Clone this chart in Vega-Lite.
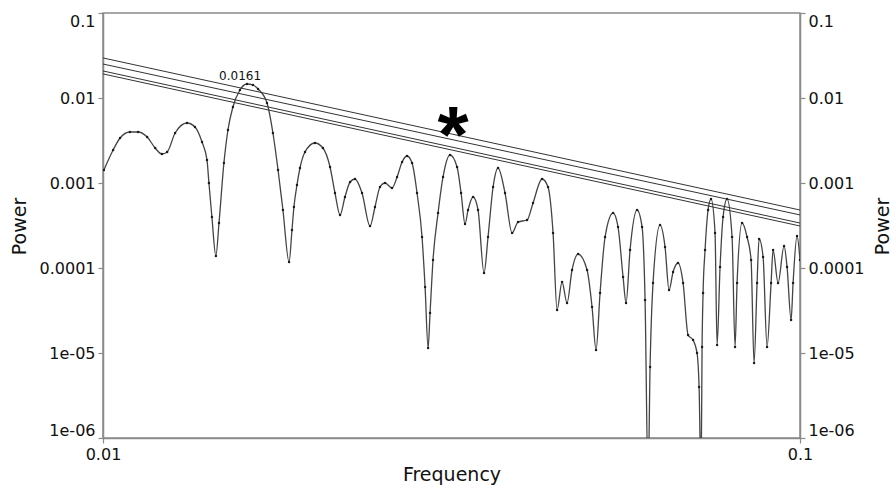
{
  "$schema": "https://vega.github.io/schema/vega-lite/v6.json",
  "width": 697,
  "height": 425,
  "autosize": {"type": "none"},
  "padding": {"left": 103, "top": 13, "right": 93, "bottom": 48},
  "background": "white",
  "config": {
    "font": "DejaVu Sans",
    "view": {"stroke": "#8a8a8a", "strokeWidth": 1.5},
    "axis": {
      "grid": false,
      "domainColor": "#8a8a8a",
      "domainWidth": 1.5,
      "tickColor": "#8a8a8a",
      "tickWidth": 1.2,
      "tickSize": 5,
      "labelFontSize": 16,
      "titleFontSize": 19,
      "titleFontWeight": "normal",
      "labelColor": "#111",
      "titleColor": "#111",
      "labelFont": "DejaVu Sans",
      "titleFont": "DejaVu Sans"
    }
  },
  "datasets": {
    "spec": [
      {"f": 0.01003, "p": 0.001422},
      {"f": 0.01034, "p": 0.002444},
      {"f": 0.01058, "p": 0.003384},
      {"f": 0.01093, "p": 0.003981},
      {"f": 0.01123, "p": 0.003981},
      {"f": 0.01157, "p": 0.003477},
      {"f": 0.01188, "p": 0.00258},
      {"f": 0.01215, "p": 0.002193},
      {"f": 0.01236, "p": 0.002315},
      {"f": 0.01269, "p": 0.003875},
      {"f": 0.0132, "p": 0.00508},
      {"f": 0.01355, "p": 0.004558},
      {"f": 0.01387, "p": 0.003036},
      {"f": 0.0141, "p": 0.001865},
      {"f": 0.01419, "p": 0.001},
      {"f": 0.01433, "p": 0.0003981},
      {"f": 0.01452, "p": 0.0001384},
      {"f": 0.01467, "p": 0.0003384},
      {"f": 0.01491, "p": 0.001719},
      {"f": 0.01511, "p": 0.004203},
      {"f": 0.01536, "p": 0.007836},
      {"f": 0.01572, "p": 0.01242},
      {"f": 0.01609, "p": 0.01461},
      {"f": 0.01641, "p": 0.01422},
      {"f": 0.01669, "p": 0.01276},
      {"f": 0.01719, "p": 0.008733},
      {"f": 0.01753, "p": 0.003875},
      {"f": 0.01783, "p": 0.001422},
      {"f": 0.01812, "p": 0.0004813},
      {"f": 0.01849, "p": 0.0001177},
      {"f": 0.01867, "p": 0.00028},
      {"f": 0.01879, "p": 0.000522},
      {"f": 0.01898, "p": 0.0009474},
      {"f": 0.01917, "p": 0.001501},
      {"f": 0.01949, "p": 0.002315},
      {"f": 0.02014, "p": 0.002955},
      {"f": 0.02068, "p": 0.00258},
      {"f": 0.02117, "p": 0.001543},
      {"f": 0.02152, "p": 0.0007627},
      {"f": 0.02188, "p": 0.0004203},
      {"f": 0.02224, "p": 0.0006843},
      {"f": 0.02262, "p": 0.001028},
      {"f": 0.02299, "p": 0.001115},
      {"f": 0.02353, "p": 0.0007627},
      {"f": 0.02416, "p": 0.0003119},
      {"f": 0.02456, "p": 0.000522},
      {"f": 0.02497, "p": 0.0008971},
      {"f": 0.02539, "p": 0.001},
      {"f": 0.02598, "p": 0.0008733},
      {"f": 0.02642, "p": 0.001177},
      {"f": 0.02686, "p": 0.001766},
      {"f": 0.0273, "p": 0.002078},
      {"f": 0.02776, "p": 0.001719},
      {"f": 0.02822, "p": 0.0007627},
      {"f": 0.02869, "p": 0.0002315},
      {"f": 0.02898, "p": 0.00005977},
      {"f": 0.02927, "p": 0.00001145},
      {"f": 0.02946, "p": 0.00002955},
      {"f": 0.02975, "p": 0.0001242},
      {"f": 0.03025, "p": 0.0004437},
      {"f": 0.03075, "p": 0.001177},
      {"f": 0.03147, "p": 0.002135},
      {"f": 0.03221, "p": 0.001543},
      {"f": 0.03264, "p": 0.0007627},
      {"f": 0.03307, "p": 0.0003293},
      {"f": 0.0334, "p": 0.0004813},
      {"f": 0.03396, "p": 0.0006843},
      {"f": 0.03452, "p": 0.0004813},
      {"f": 0.03521, "p": 0.00008733},
      {"f": 0.03568, "p": 0.0002315},
      {"f": 0.03628, "p": 0.0008971},
      {"f": 0.03688, "p": 0.001501},
      {"f": 0.03774, "p": 0.0007627},
      {"f": 0.03863, "p": 0.000258},
      {"f": 0.0394, "p": 0.0003477},
      {"f": 0.04059, "p": 0.0003671},
      {"f": 0.0414, "p": 0.0005817},
      {"f": 0.04265, "p": 0.001115},
      {"f": 0.0435, "p": 0.0008971},
      {"f": 0.04423, "p": 0.000258},
      {"f": 0.04482, "p": 0.00003204},
      {"f": 0.04556, "p": 0.00006843},
      {"f": 0.04632, "p": 0.00003875},
      {"f": 0.04709, "p": 0.00009474},
      {"f": 0.04804, "p": 0.0001461},
      {"f": 0.04949, "p": 0.00009474},
      {"f": 0.05031, "p": 0.00003477},
      {"f": 0.05098, "p": 0.00001085},
      {"f": 0.05166, "p": 0.0000508},
      {"f": 0.05252, "p": 0.0002315},
      {"f": 0.05393, "p": 0.0004437},
      {"f": 0.05482, "p": 0.0003036},
      {"f": 0.05574, "p": 0.00007836},
      {"f": 0.05629, "p": 0.00003875},
      {"f": 0.05704, "p": 0.0001628},
      {"f": 0.05837, "p": 0.0004813},
      {"f": 0.05935, "p": 0.0003036},
      {"f": 0.05994, "p": 0.00004203},
      {"f": 0.06054, "p": 0.0000003},
      {"f": 0.06094, "p": 0.000006843},
      {"f": 0.06154, "p": 0.0000666},
      {"f": 0.06298, "p": 0.0003204},
      {"f": 0.06403, "p": 0.0001766},
      {"f": 0.06488, "p": 0.0000551},
      {"f": 0.06575, "p": 0.00008971},
      {"f": 0.06684, "p": 0.0001145},
      {"f": 0.06796, "p": 0.0000666},
      {"f": 0.06909, "p": 0.00001628},
      {"f": 0.07024, "p": 0.00001422},
      {"f": 0.07117, "p": 0.00001},
      {"f": 0.07165, "p": 0.000003981},
      {"f": 0.07212, "p": 0.0000003},
      {"f": 0.07236, "p": 0.00001177},
      {"f": 0.0726, "p": 0.0000508},
      {"f": 0.07308, "p": 0.0001628},
      {"f": 0.07381, "p": 0.0004813},
      {"f": 0.07454, "p": 0.0006482},
      {"f": 0.07553, "p": 0.000258},
      {"f": 0.07604, "p": 0.00001242},
      {"f": 0.07679, "p": 0.0001028},
      {"f": 0.07756, "p": 0.0003981},
      {"f": 0.07859, "p": 0.0006482},
      {"f": 0.0799, "p": 0.0002315},
      {"f": 0.08069, "p": 0.00001177},
      {"f": 0.08123, "p": 0.0000666},
      {"f": 0.08258, "p": 0.0003384},
      {"f": 0.08396, "p": 0.0002315},
      {"f": 0.08508, "p": 0.0001242},
      {"f": 0.08592, "p": 0.000007627},
      {"f": 0.08678, "p": 0.0000666},
      {"f": 0.08736, "p": 0.0002193},
      {"f": 0.08852, "p": 0.0001347},
      {"f": 0.08969, "p": 0.00001177},
      {"f": 0.09089, "p": 0.0000666},
      {"f": 0.09149, "p": 0.0001628},
      {"f": 0.09301, "p": 0.0000666},
      {"f": 0.09487, "p": 0.0001815},
      {"f": 0.09582, "p": 0.0001028},
      {"f": 0.0971, "p": 0.00002444},
      {"f": 0.09774, "p": 0.0000666},
      {"f": 0.09902, "p": 0.0002379},
      {"f": 0.1, "p": 0.0001242}
    ],
    "levels": [
      {"lvl": "a", "f": 0.01, "p": 0.0296},
      {"lvl": "a", "f": 0.1, "p": 0.000481},
      {"lvl": "b", "f": 0.01, "p": 0.0251},
      {"lvl": "b", "f": 0.1, "p": 0.000421},
      {"lvl": "c", "f": 0.01, "p": 0.0208},
      {"lvl": "c", "f": 0.1, "p": 0.000338},
      {"lvl": "d", "f": 0.01, "p": 0.0192},
      {"lvl": "d", "f": 0.1, "p": 0.000312}
    ],
    "notes": [
      {"f": 0.01573, "p": 0.01815, "label": "0.0161", "kind": "peak"},
      {"f": 0.03178, "p": 0.00522, "label": "*", "kind": "star"}
    ]
  },
  "layer": [
    {
      "data": {"name": "spec"},
      "mark": {"type": "line", "color": "#444", "strokeWidth": 1.3, "interpolate": "monotone", "clip": true},
      "encoding": {
        "x": {
          "field": "f", "type": "quantitative",
          "scale": {"type": "log", "domain": [0.01, 0.1]},
          "axis": {
            "title": "Frequency",
            "values": [0.01, 0.1],
            "labelExpr": "datum.value < 0.05 ? '0.01' : '0.1'",
            "labelFlush": false,
            "labelPadding": 3,
            "titlePadding": 3
          }
        },
        "y": {
          "field": "p", "type": "quantitative",
          "scale": {"type": "log", "domain": [0.000001, 0.1]},
          "axis": {
            "orient": "left",
            "title": "Power",
            "values": [0.000001, 0.00001, 0.0001, 0.001, 0.01, 0.1],
            "labelExpr": "datum.value >= 0.05 ? '0.1' : datum.value >= 0.005 ? '0.01' : datum.value >= 0.0005 ? '0.001' : datum.value >= 0.00005 ? '0.0001' : datum.value >= 0.000005 ? '1e-05' : '1e-06'",
            "labelFlush": true,
            "labelPadding": 3,
            "titleAngle": 270,
            "titleX": -84,
            "titleY": 213,
            "titleAlign": "center",
            "titleBaseline": "middle"
          }
        }
      }
    },
    {
      "data": {"name": "spec"},
      "mark": {"type": "point", "filled": true, "size": 6, "color": "#1a1a1a", "opacity": 1, "clip": true},
      "encoding": {
        "x": {"field": "f", "type": "quantitative"},
        "y": {
          "field": "p", "type": "quantitative",
          "axis": {
            "orient": "right",
            "title": "Power",
            "values": [0.000001, 0.00001, 0.0001, 0.001, 0.01, 0.1],
            "labelExpr": "datum.value >= 0.05 ? '0.1' : datum.value >= 0.005 ? '0.01' : datum.value >= 0.0005 ? '0.001' : datum.value >= 0.00005 ? '0.0001' : datum.value >= 0.000005 ? '1e-05' : '1e-06'",
            "labelFlush": true,
            "labelPadding": 3,
            "titleAngle": 270,
            "titleX": 82,
            "titleY": 213,
            "titleAlign": "center",
            "titleBaseline": "middle"
          }
        }
      }
    },
    {
      "data": {"name": "levels"},
      "mark": {"type": "line", "color": "#333", "strokeWidth": 1, "clip": true},
      "encoding": {
        "x": {"field": "f", "type": "quantitative"},
        "y": {"field": "p", "type": "quantitative", "axis": null},
        "detail": {"field": "lvl", "type": "nominal"}
      }
    },
    {
      "data": {"name": "notes"},
      "transform": [{"filter": "datum.kind == 'peak'"}],
      "mark": {"type": "text", "font": "DejaVu Sans", "fontSize": 12, "color": "#111", "baseline": "middle", "align": "center"},
      "encoding": {
        "x": {"field": "f", "type": "quantitative"},
        "y": {"field": "p", "type": "quantitative", "axis": null},
        "text": {"field": "label"}
      }
    },
    {
      "data": {"name": "notes"},
      "transform": [{"filter": "datum.kind == 'star'"}],
      "mark": {"type": "text", "font": "Liberation Sans", "fontWeight": "bold", "fontSize": 80, "color": "#000", "baseline": "alphabetic", "align": "center", "dy": 40},
      "encoding": {
        "x": {"field": "f", "type": "quantitative"},
        "y": {"field": "p", "type": "quantitative", "axis": null},
        "text": {"field": "label"}
      }
    }
  ],
  "resolve": {"axis": {"y": "independent"}}
}
